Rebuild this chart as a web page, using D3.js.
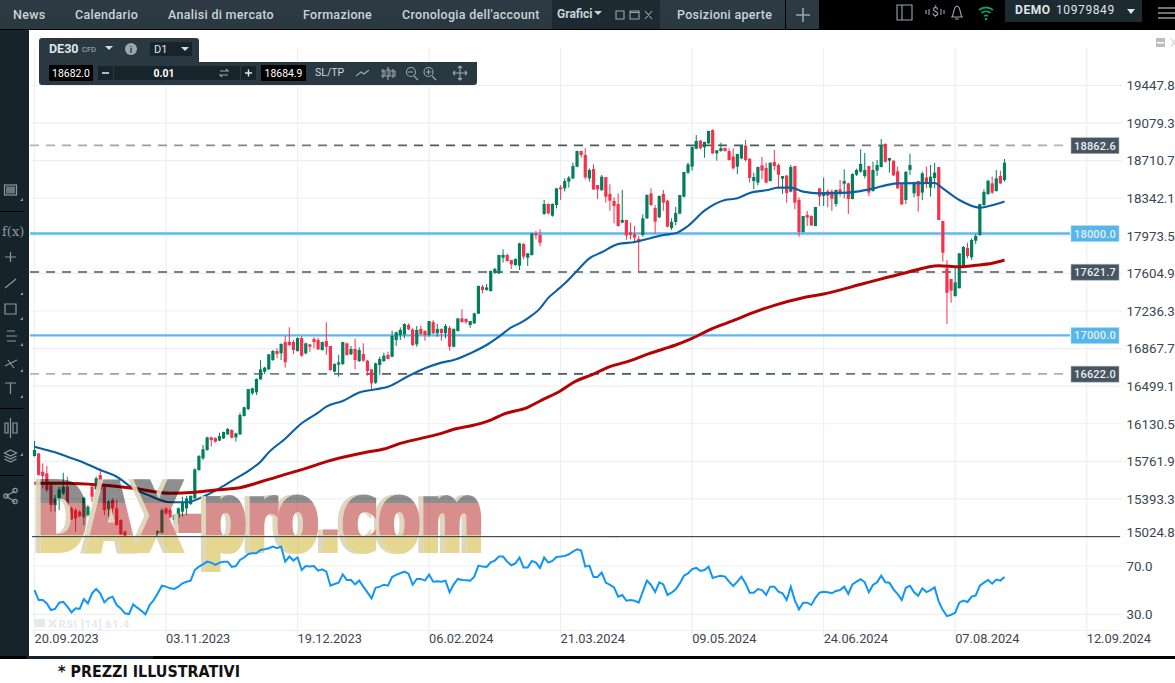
<!DOCTYPE html>
<html>
<head>
<meta charset="utf-8">
<script src="https://d3js.org/d3.v7.min.js"></script>
<style>
	body { margin: 0; background: #fff; font-family: Roboto, sans-serif; overflow: hidden; }
	svg { display: block; }
	.tab { font-size: 12.5px; font-weight: 500; fill: #c9d3d9; letter-spacing: .3px; }
	.axis-text text { font-family: Roboto, sans-serif; font-size: 13.3px; fill: #3c4650; }
	.tag { font-size: 11px; font-weight: 500; fill: #e8eef2; letter-spacing: .2px; }
	.tool { font-size: 10.4px; fill: #fff; }
	.ico { fill: none; stroke: #9aa7ae; stroke-width: 1.1; }
	.side { fill: none; stroke: #8c999f; stroke-width: 1.2; }
</style>
</head>

<body>
<script>
	var opens = [
		15814,15840,15660,15644,15530,15333,15382,15448,15513,15301,15284,15268,15212,15235,15513,15487,15628,15513,15291,15382,
		15301,15186,15072,14995,14940,14985,14930,14890,14850,14915,15029,15062,15301,15284,15186,15212,15268,15301,15343,15399,
		15677,15791,15873,15997,15991,15965,15987,16027,16069,15997,16027,16207,16275,16429,16439,16566,16641,16664,16756,16844,
		16821,16932,16935,16932,16844,16971,16821,16909,16962,16952,16854,16942,16893,16641,16710,16716,16919,16811,16864,16746,
		16815,16749,16664,16533,16707,16746,16805,16788,16952,17001,17007,17099,17056,16909,17060,17040,17001,17128,17017,17060,
		17017,17070,16886,17040,17164,17158,17099,17115,17210,17475,17442,17432,17612,17606,17759,17786,17736,17687,17681,17893,
		17759,17786,17998,17982,18188,18286,18171,18276,18449,18439,18505,18537,18652,18805,18766,18537,18629,18472,18423,18550,
		18384,18315,18286,18103,18129,18008,17988,17943,17982,18145,18390,18246,18155,18384,18318,18050,18109,18191,18358,18593,
		18652,18828,18907,18841,18881,19011,18783,18805,18835,18805,18750,18652,18733,18858,18730,18511,18495,18665,18639,18511,
		18697,18668,18534,18564,18407,18658,18325,18011,18178,18168,18070,18439,18364,18410,18410,18286,18429,18485,18488,18335,
		18573,18603,18560,18658,18413,18613,18648,18874,18711,18711,18606,18478,18325,18619,18390,18511,18397,18547,18446,18541,
		18648,18119,17655,17550,17383,17459,17687,17854,17763,17926,17982,18276,18384,18488,18413,18560,18521];
	var highs = [
		15961,15840,15742,15716,15562,15431,15513,15650,15611,15317,15301,15284,15415,15333,15530,15611,15693,15530,15382,15399,
		15382,15193,15088,15010,14990,14995,14950,14915,14930,15010,15088,15301,15310,15301,15245,15310,15415,15422,15431,15693,
		15824,15922,16004,16004,15997,16043,16053,16089,16076,16043,16239,16298,16471,16484,16576,16756,16690,16815,16854,16870,
		16919,16991,17076,16952,16978,16991,16926,16913,16978,16975,16935,17125,16893,16723,16805,16935,16926,16893,16968,16880,
		16919,16756,16664,16730,16788,16828,16837,17043,17034,17076,17115,17115,17066,17089,17092,17050,17138,17148,17109,17066,
		17109,17089,17066,17164,17253,17164,17138,17220,17485,17491,17501,17632,17661,17786,17841,17795,17736,17753,17906,17900,
		17802,18004,18021,18037,18325,18292,18292,18443,18472,18537,18560,18691,18809,18809,18832,18635,18675,18472,18570,18550,
		18479,18351,18390,18423,18129,18103,18070,17972,18184,18380,18439,18276,18371,18423,18325,18145,18259,18374,18600,18691,
		18848,18962,18913,18897,19005,19018,18815,18887,18838,18832,18832,18776,18864,18913,18733,18593,18652,18747,18691,18691,
		18815,18684,18560,18570,18668,18658,18351,18168,18217,18174,18256,18439,18544,18429,18429,18429,18521,18626,18495,18586,
		18632,18822,18786,18658,18701,18717,18923,18881,18737,18711,18652,18488,18603,18779,18505,18511,18603,18652,18668,18691,
		18648,18119,17736,17550,17665,17802,17874,17906,17949,17991,18286,18429,18521,18554,18619,18613,18727];
	var lows = [
		15808,15621,15497,15464,15268,15268,15284,15431,15301,15186,15072,15212,15137,15219,15366,15480,15480,15235,15219,15235,
		15131,15039,15006,14930,14925,14905,14870,14830,14840,14900,15023,15055,15235,15203,15137,15147,15219,15235,15333,15392,
		15670,15775,15866,15906,15945,15961,15981,16020,15987,15955,16020,16200,16265,16413,16413,16560,16618,16658,16746,16772,
		16756,16681,16893,16815,16837,16788,16811,16837,16870,16854,16847,16805,16651,16635,16592,16707,16798,16805,16664,16736,
		16739,16602,16461,16520,16609,16733,16762,16782,16893,16952,16968,17050,16893,16886,17001,16945,16984,17011,16984,16945,
		16968,16847,16880,17034,17122,17109,17073,17109,17207,17410,17436,17426,17599,17599,17710,17720,17648,17681,17638,17743,
		17678,17779,17939,17874,18178,18184,18161,18243,18325,18407,18446,18528,18645,18740,18528,18505,18423,18335,18413,18299,
		18220,18096,18063,18096,17933,17939,17900,17615,17965,18139,18266,17998,18148,18220,18057,18031,18076,18184,18348,18580,
		18613,18822,18822,18740,18874,18776,18711,18799,18799,18711,18625,18580,18724,18701,18495,18433,18469,18528,18488,18508,
		18619,18449,18384,18299,18400,18233,17965,18004,18070,18070,18070,18266,18266,18253,18217,18259,18358,18341,18188,18331,
		18560,18593,18537,18364,18407,18560,18645,18691,18593,18560,18436,18276,18286,18570,18351,18210,18325,18439,18358,18439,
		18129,17720,17109,17318,17377,17459,17671,17753,17736,17893,17972,18266,18374,18384,18407,18482,18505];
	var closes = [
		15873,15628,15618,15480,15333,15398,15487,15513,15333,15193,15203,15225,15405,15317,15415,15595,15487,15284,15366,15301,
		15137,15049,15023,14950,14985,14930,14890,14850,14915,14990,15078,15284,15252,15212,15235,15301,15356,15399,15422,15683,
		15814,15880,15997,15971,15955,16010,16050,16079,15994,16036,16216,16292,16471,16478,16569,16664,16681,16811,16844,16815,
		16913,16733,16903,16854,16971,16798,16919,16886,16932,16860,16932,16886,16658,16716,16733,16932,16805,16864,16756,16854,
		16749,16648,16527,16723,16766,16798,16766,16991,17027,17050,17109,17056,16903,17050,17011,17001,17138,17017,17060,17020,
		17089,16886,17060,17164,17128,17128,17138,17213,17482,17442,17468,17629,17648,17786,17786,17727,17694,17746,17900,17769,
		17802,17998,17978,17906,18286,18194,18286,18439,18429,18511,18544,18658,18805,18766,18547,18619,18429,18429,18554,18358,
		18318,18266,18070,18129,17978,17982,17956,17910,18145,18374,18276,18112,18364,18299,18063,18109,18197,18374,18600,18675,
		18845,18904,18832,18894,19002,18783,18812,18835,18805,18717,18635,18776,18858,18717,18541,18550,18648,18613,18495,18691,
		18658,18573,18560,18394,18648,18299,18011,18168,18152,18076,18256,18358,18403,18367,18338,18423,18397,18511,18335,18580,
		18619,18678,18619,18397,18619,18668,18861,18701,18737,18567,18439,18282,18603,18668,18495,18364,18586,18488,18554,18593,
		18129,17808,17416,17436,17517,17802,17864,17776,17933,17972,18286,18403,18514,18397,18537,18488,18691];

	// moving averages, read at the bars listed
	var blueBars = [0,5,8,12,16,20,24,28,33,37,41,45,49,52,55,57,61,65,69,71,75,79,83,86,91,95,99,102,106,110,113,116,118,120,123,125,127,129,132,135,138,142,146,149,153,156,159,163,168,171,174,178,181,184,187,191,198,203,210,219,221,225,230,232,236];
	var blueValues = [15906,15850,15807,15749,15677,15611,15497,15425,15360,15360,15415,15497,15595,15667,15759,15850,15984,16135,16239,16298,16354,16436,16468,16494,16599,16674,16730,16756,16821,16903,16985,17076,17115,17164,17262,17365,17435,17505,17630,17753,17812,17893,17913,17942,17982,17998,18070,18220,18325,18341,18394,18420,18446,18446,18407,18390,18397,18429,18488,18492,18439,18325,18250,18263,18309];
	var redBars = [0,8,16,24,33,39,44,49,57,61,66,71,81,85,89,99,102,107,111,114,120,123,128,131,136,140,145,149,153,156,160,165,170,175,180,187,192,202,212,220,225,229,233,236];
	var redValues = [15546,15546,15529,15497,15448,15458,15481,15497,15585,15634,15693,15759,15853,15883,15938,16036,16076,16118,16167,16223,16292,16354,16455,16533,16618,16690,16749,16811,16864,16903,16968,17066,17141,17223,17292,17367,17403,17508,17612,17681,17671,17684,17704,17737];

	var rsiValues = [
		50.1,41.8,41.8,39,33.5,34.4,39.6,40.4,36.3,31.6,34.9,34.4,42.7,39,47.4,51,47.4,39.9,43.2,44.6,
		37.7,34.9,30.8,30.2,38.2,35.5,33,30,37.7,41.8,47.4,53.7,52.9,51.5,51,52.9,55.7,57,57.9,66.7,
		69.5,71.4,73.6,72.8,70.9,72.8,73.6,73.6,69.2,70,75,77,80,80.6,80.6,83.3,83.9,84.7,86.1,84.7,
		86.1,73.6,77.8,74.5,77.2,66.7,70,69.5,70,66.2,67.3,65.4,53.7,55.1,56.2,63.1,58.4,58.4,54.8,57.9,
		52.9,48.2,43.2,52,52.9,54.5,53.7,60.9,62.6,64,65.4,63.7,54.5,59.3,59.3,57.9,62.9,57,57.3,57,
		57.9,48.2,54.8,59.3,58.4,58.2,57.9,61.2,70.3,69.5,69.2,73.1,74.5,77.8,77.8,73.6,70.6,72.2,77,68.7,
		68.7,74.2,72.8,68.4,77,72.8,74.2,77.5,77.8,78.3,79.7,81.9,83.9,82.8,69.5,70.3,60.9,60.9,64.5,56.2,
		54.3,52.3,44.6,46,41.3,41.8,41.3,39.6,48.7,57.9,54.3,48.4,56.5,54.8,46,47.9,50.7,55.6,62,63.9,
		67.5,68.4,65.9,66.7,69.5,60.1,61.2,62,61.2,57,53.4,57,61.2,55.6,47.9,47.9,50.9,50.1,46,52.9,
		52.9,48.7,47.4,41.8,52.9,41.3,34,39.6,39.6,37.7,43.7,47.9,48.7,48.2,47.4,49.3,50.1,52.9,46.8,54.8,
		57,59,56.5,48.2,54.3,56.5,62,56.5,56.2,50.7,46.8,41.8,52,53.7,48.2,45.4,51.5,48.4,50.1,52.3,
		40.4,33.5,28.5,29.6,31.3,39.6,41.3,40.2,44.6,45.7,53.7,56.2,58.4,55.4,58.7,57.9,60.9];

	var priceTicks = [19447.8,19079.3,18710.7,18342.1,17973.5,17604.9,17236.3,16867.7,16499.1,16130.5,15761.9,15393.3,15024.8];
	var rsiTicks = [70,30];
	var dateBars = [0,32,64,96,128,160,192,224,256];
	var dateLabels = ["20.09.2023","03.11.2023","19.12.2023","06.02.2024","21.03.2024","09.05.2024","24.06.2024","07.08.2024","12.09.2024"];
	var levelValues = [18862.6,18000,17621.7,17000,16622];
	var levelLabels = ["18862.6","18000.0","17621.7","17000.0","16622.0"];
	var levelKinds = ["grey","blue","dark","blue","grey"];
	var tabNames = ["News","Calendario","Analisi di mercato","Formazione","Cronologia dell'account"];
	var tabStarts = [13,75,168,303,402];

	var svg = d3.select("body").append("svg").attr("width", 1175).attr("height", 683);
	var defs = svg.append("defs");

	var x = d3.scaleLinear().domain([0, 236]).range([34.5, 1004.5]);
	var y = d3.scaleLinear().domain([15024.8, 19447.8]).range([536.5, 85.5]);
	var rsiY = d3.scaleLinear().domain([30, 70]).range([614.3, 566]);

	defs.append("clipPath").attr("id", "pricePane").append("rect")
		.attr("x", 30).attr("y", 30).attr("width", 1090).attr("height", 506.5);

	// grid
	var grid = svg.append("g").attr("stroke", "#edeff2").attr("stroke-width", 1.2);
	grid.selectAll(".h").data(priceTicks).enter().append("line")
		.attr("x1", 31).attr("x2", 1122)
		.attr("y1", function(d) { return y(d); }).attr("y2", function(d) { return y(d); });
	grid.selectAll(".r").data(rsiTicks).enter().append("line")
		.attr("x1", 31).attr("x2", 1122)
		.attr("y1", function(d) { return rsiY(d); }).attr("y2", function(d) { return rsiY(d); });
	grid.append("line").attr("x1", 31).attr("x2", 1119).attr("y1", 630.5).attr("y2", 630.5);
	grid.selectAll(".v").data(dateBars).enter().append("line")
		.attr("x1", function(d) { return x(d); }).attr("x2", function(d) { return x(d); })
		.attr("y1", 48).attr("y2", 638);

	// level lines under the candles
	var greyGrad = defs.append("linearGradient").attr("id", "greyLevel")
		.attr("gradientUnits", "userSpaceOnUse").attr("x1", 30).attr("x2", 1070).attr("y1", 0).attr("y2", 0);
	greyGrad.append("stop").attr("offset", 0).attr("stop-color", "#b3b5b7");
	greyGrad.append("stop").attr("offset", .4).attr("stop-color", "#4c5862");
	greyGrad.append("stop").attr("offset", .7).attr("stop-color", "#4c5862");
	greyGrad.append("stop").attr("offset", 1).attr("stop-color", "#b3b5b7");

	levelValues.forEach(function(v, i) {
		var kind = levelKinds[i];
		svg.append("line")
			.attr("x1", 30).attr("x2", 1070)
			.attr("y1", y(v) + .3).attr("y2", y(v) + .3 + .001)
			.attr("stroke", kind == "blue" ? "#5cb8ee" : (kind == "dark" ? "#4c5862" : "url(#greyLevel)"))
			.attr("stroke-width", kind == "blue" ? 2.4 : 1.7)
			.attr("stroke-dasharray", kind == "blue" ? null : "9,7");
		svg.append("rect").attr("x", 1071).attr("y", y(v) - 7.5).attr("width", 48).attr("height", 16)
			.attr("fill", kind == "blue" ? "#55b6ec" : "#475560")
			.attr("stroke", kind == "blue" ? "#a9d9f4" : "#aab2b8").attr("stroke-width", .6);
		svg.append("text").attr("class", "tag").attr("x", 1095).attr("y", y(v) + 4.4)
			.attr("text-anchor", "middle").text(levelLabels[i]);
	});

	// candles
	var pane = svg.append("g").attr("clip-path", "url(#pricePane)");
	var bars = d3.range(opens.length);
	var colour = function(i) { return closes[i] >= opens[i] ? "#037d5a" : "#f5324c"; };

	pane.selectAll(".wick").data(bars).enter().append("line")
		.attr("x1", function(i) { return x(i); }).attr("x2", function(i) { return x(i); })
		.attr("y1", function(i) { return y(highs[i]); }).attr("y2", function(i) { return y(lows[i]); })
		.attr("stroke", colour).attr("stroke-width", 1);
	pane.selectAll(".body").data(bars).enter().append("rect")
		.attr("x", function(i) { return x(i) - 1.6; }).attr("width", 3.2)
		.attr("y", function(i) { return y(Math.max(opens[i], closes[i])); })
		.attr("height", function(i) { return Math.max(1, Math.abs(y(opens[i]) - y(closes[i]))); })
		.attr("fill", colour);

	// moving averages
	var priceLine = d3.line().x(function(d) { return x(d[0]); }).y(function(d) { return y(d[1]); }).curve(d3.curveMonotoneX);
	pane.append("path").attr("d", priceLine(d3.zip(blueBars, blueValues)))
		.attr("fill", "none").attr("stroke", "#0b5fa5").attr("stroke-width", 2.1);
	pane.append("path").attr("d", priceLine(d3.zip(redBars, redValues)))
		.attr("fill", "none").attr("stroke", "#b30404").attr("stroke-width", 3);

	// watermark, flag colours over the chart with a beige shadow
	var flag = defs.append("linearGradient").attr("id", "flag")
		.attr("gradientUnits", "userSpaceOnUse").attr("x1", 0).attr("x2", 0).attr("y1", 482).attr("y2", 552);
	[[0, "#000"], [.3, "#000"], [.3, "#a90000"], [.76, "#a90000"], [.76, "#c6a603"], [1, "#c6a603"]].forEach(function(s) {
		flag.append("stop").attr("offset", s[0]).attr("stop-color", s[1]);
	});
	function mark(parent, dx, fill) {
		return parent.append("text").attr("x", 37 + dx).attr("y", 550)
			.attr("textLength", 447).attr("lengthAdjust", "spacingAndGlyphs")
			.attr("font-family", "'DejaVu Sans'").attr("font-weight", "bold").attr("font-size", 92)
			.attr("fill", fill).attr("stroke", fill).attr("stroke-width", 6)
			.text("DAX-pro.com");
	}
	var knock = defs.append("mask").attr("id", "notMain").attr("maskUnits", "userSpaceOnUse")
		.attr("x", 0).attr("y", 440).attr("width", 600).attr("height", 140);
	knock.append("rect").attr("x", 0).attr("y", 440).attr("width", 600).attr("height", 140).attr("fill", "#fff");
	mark(knock, 0, "#000");
	mark(svg.append("g").attr("mask", "url(#notMain)").attr("opacity", .92), -5, "#dcd3b8");
	mark(svg.append("g").attr("opacity", .44), 0, "url(#flag)");

	// separator between the panes
	svg.append("rect").attr("x", 32).attr("y", 536).attr("width", 1088).attr("height", 1.2).attr("fill", "#3f4d58");
	svg.append("rect").attr("x", 609).attr("y", 537).attr("width", 10).attr("height", 1).attr("fill", "#c4c8cb");

	// RSI
	var rsiLine = d3.line().x(function(d, i) { return x(i); }).y(function(d) { return rsiY(d); });
	svg.append("path").attr("d", rsiLine(rsiValues))
		.attr("fill", "none").attr("stroke", "#0f96f5").attr("stroke-width", 2);
	svg.append("text").attr("x", 59).attr("y", 628).attr("font-size", 10.5).attr("font-weight", "bold")
		.attr("fill", "#e6e9ec").attr("letter-spacing", .8).text("RSI [14] 61.4");
	svg.append("rect").attr("x", 34).attr("y", 619).attr("width", 11).attr("height", 8).attr("fill", "#e6e9ec");
	svg.append("path").attr("d", "M49 620l7 7M56 620l-7 7").attr("stroke", "#e6e9ec").attr("stroke-width", 2.4);

	// axes
	var priceAxis = d3.axisRight(y).tickValues(priceTicks).tickFormat(d3.format(".1f")).tickSize(0).tickPadding(0);
	var priceG = svg.append("g").attr("class", "axis-text").attr("transform", "translate(1126.5,0)").call(priceAxis);
	priceG.select(".domain").remove();
	priceG.selectAll("text").attr("dy", function(d) { return d == 15024.8 ? "-.0em" : ".32em"; });

	var rsiAxis = d3.axisRight(rsiY).tickValues(rsiTicks).tickFormat(d3.format(".1f")).tickSize(0).tickPadding(0);
	var rsiG = svg.append("g").attr("class", "axis-text").attr("transform", "translate(1126.5,0)").call(rsiAxis);
	rsiG.select(".domain").remove();

	var dateAxis = d3.axisBottom(x).tickValues(dateBars).tickFormat(function(d, i) { return dateLabels[i]; }).tickSize(0).tickPadding(0);
	var dateG = svg.append("g").attr("class", "axis-text").attr("transform", "translate(-.5,634)").call(dateAxis);
	dateG.select(".domain").remove();
	dateG.selectAll("text").attr("text-anchor", "start").attr("dy", ".71em").style("font-size", "12.8px");

	// top bar
	svg.append("rect").attr("width", 1175).attr("height", 30).attr("fill", "#000");
	var tabGrad = defs.append("linearGradient").attr("id", "tabBg").attr("x1", 0).attr("x2", 0).attr("y1", 0).attr("y2", 1);
	tabGrad.append("stop").attr("offset", 0).attr("stop-color", "#2e3b44");
	tabGrad.append("stop").attr("offset", 1).attr("stop-color", "#2a3840");
	svg.append("rect").attr("width", 552).attr("height", 29).attr("fill", "url(#tabBg)");
	svg.append("rect").attr("x", 552).attr("width", 72).attr("height", 29).attr("fill", "#1d2a31");
	svg.append("rect").attr("x", 624).attr("width", 36).attr("height", 29).attr("fill", "#1d2a31");
	svg.append("rect").attr("x", 660).attr("width", 125).attr("height", 29).attr("fill", "url(#tabBg)");
	svg.append("rect").attr("x", 786).attr("width", 33).attr("height", 29).attr("fill", "url(#tabBg)");
	tabNames.forEach(function(t, i) {
		svg.append("text").attr("class", "tab").attr("x", tabStarts[i]).attr("y", 19).text(t);
	});
	svg.append("text").attr("class", "tab").attr("x", 677).attr("y", 19).text("Posizioni aperte");
	svg.append("text").attr("x", 557).attr("y", 18).attr("font-size", 12).attr("font-weight", "bold").attr("fill", "#c9d3d9").text("Grafici");
	svg.append("path").attr("d", "M594 11h8l-4 4z").attr("fill", "#c9d3d9");
	svg.append("path").attr("class", "ico").attr("d", "M616 11h8v8h-8z M630 11h9v8h-9z M630 12.5h9 M645 11l7 8 M652 11l-7 8");
	svg.append("path").attr("d", "M803 8v14M796 15h14").attr("stroke", "#9aa7ae").attr("stroke-width", 1.6);
	svg.append("path").attr("class", "ico").attr("d", "M897 5h15v15h-15z M902 5v15");
	svg.append("text").attr("x", 932).attr("y", 16).attr("font-size", 12).attr("fill", "#9aa7ae").text("$");
	svg.append("path").attr("class", "ico").attr("d", "M926 10v4 M929 9v6 M941 9v6 M944 10v4 M952 17c2-2 1-10 5-11c4 1 3 9 5 11z M955 19h4");
	svg.append("path").attr("d", "M979 10a11 11 0 0 1 14 0 M981.5 13a7 7 0 0 1 9 0 M984 16a3.5 3.5 0 0 1 4 0")
		.attr("fill", "none").attr("stroke", "#0aa06e").attr("stroke-width", 1.8);
	svg.append("circle").attr("cx", 986).attr("cy", 19).attr("r", 1.3).attr("fill", "#0aa06e");
	svg.append("rect").attr("x", 1005).attr("width", 137).attr("height", 22).attr("fill", "#1d2a31");
	svg.append("text").attr("x", 1015).attr("y", 14).attr("font-size", 12).attr("font-weight", "bold").attr("letter-spacing", .6).attr("fill", "#dfe5e8").text("DEMO");
	svg.append("text").attr("x", 1056).attr("y", 14).attr("font-size", 12).attr("letter-spacing", .6).attr("fill", "#dfe5e8").text("10979849");
	svg.append("path").attr("d", "M1127 9h8l-4 5z").attr("fill", "#dfe5e8");
	svg.append("path").attr("d", "M1158 8h17M1158 13h17M1158 18h17").attr("stroke", "#dfe5e8").attr("stroke-width", 1.2);
	svg.append("rect").attr("x", 1156).attr("y", 38).attr("width", 9).attr("height", 9).attr("fill", "#b9bec2");
	svg.append("rect").attr("x", 1157).attr("y", 42).attr("width", 7).attr("height", 1.5).attr("fill", "#fff");
	svg.append("path").attr("d", "M1171 38l5 9M1176 38l-5 9").attr("stroke", "#c8ccd0").attr("stroke-width", 1);

	// left toolbar
	svg.append("rect").attr("y", 30).attr("width", 29).attr("height", 627).attr("fill", "#17232b");
	var side = svg.append("g").attr("class", "side");
	side.append("rect").attr("x", 4.5).attr("y", 185).attr("width", 12).attr("height", 10);
	side.append("rect").attr("x", 6).attr("y", 186.5).attr("width", 9).attr("height", 7).attr("fill", "#65767e").attr("stroke", "none");
	side.append("path").attr("d", "M5 257h11M10.5 252v10M5 288l11-9M5 304h11v10h-11z M7 331h8M6 336h11M7 341h9M5 366l12-6M8 360l6 8M5 383h11M10.5 383v11M5 423v10h3v-10zM10.5 418v20M13 423v10h4v-10z");
	side.append("path").attr("d", "M10.5 450l6 3-6 3-6-3zM4.5 456l6 3 6-3M4.5 459l6 3 6-3");
	side.append("path").attr("d", "M6 496l9-5M6 496l9 6");
	side.append("circle").attr("cx", 6).attr("cy", 496).attr("r", 2.2);
	side.append("circle").attr("cx", 15).attr("cy", 490.5).attr("r", 2.2);
	side.append("circle").attr("cx", 15).attr("cy", 501.5).attr("r", 2.2);
	svg.append("text").attr("x", 2).attr("y", 236).attr("font-size", 13).attr("fill", "#8c999f").attr("font-family", "'DejaVu Serif'").text("f(x)");
	[211, 408, 475].forEach(function(s) {
		svg.append("rect").attr("x", 0).attr("y", s).attr("width", 23).attr("height", 1).attr("fill", "#000");
	});
	[201, 295, 320, 346, 372, 398, 456].forEach(function(s) {
		svg.append("path").attr("d", "M23 " + s + "v-3l-3 3z").attr("fill", "#8c999f");
	});

	// instrument panel
	svg.append("path").attr("d", "M42 38h154q3 0 3 3v21h278v20q0 3-3 3h-432q-3 0-3-3v-41q0-3 3-3z").attr("fill", "#2a3841");
	svg.append("text").attr("x", 49).attr("y", 53).attr("font-size", 12.5).attr("font-weight", "bold").attr("fill", "#dfe5e8").text("DE30");
	svg.append("text").attr("x", 82).attr("y", 52).attr("font-size", 7.5).attr("fill", "#aab5bb").text("CFD");
	svg.append("path").attr("d", "M105 46h8l-4 4z").attr("fill", "#d4dade");
	svg.append("circle").attr("cx", 131).attr("cy", 49).attr("r", 6).attr("fill", "#9ea7ac");
	svg.append("text").attr("x", 131).attr("y", 53).attr("text-anchor", "middle").attr("font-size", 9).attr("font-weight", "bold").attr("fill", "#2a3841").text("i");
	svg.append("rect").attr("x", 150).attr("y", 42).attr("width", 42).attr("height", 14).attr("fill", "#18242b");
	svg.append("text").attr("x", 154).attr("y", 53).attr("font-size", 11).attr("fill", "#dfe5e8").text("D1");
	svg.append("path").attr("d", "M181 47h8l-4 4z").attr("fill", "#d4dade");
	svg.append("rect").attr("x", 49).attr("y", 65).attr("width", 44).attr("height", 16).attr("fill", "#000").attr("rx", 1);
	svg.append("rect").attr("x", 98).attr("y", 66).attr("width", 15).attr("height", 14).attr("fill", "#18242b");
	svg.append("rect").attr("x", 114).attr("y", 66).attr("width", 126).attr("height", 14).attr("fill", "#18242b");
	svg.append("rect").attr("x", 241).attr("y", 66).attr("width", 15).attr("height", 14).attr("fill", "#18242b");
	svg.append("rect").attr("x", 261).attr("y", 65).attr("width", 45).attr("height", 16).attr("fill", "#000").attr("rx", 1);
	svg.append("text").attr("class", "tool").attr("x", 71).attr("y", 77).attr("text-anchor", "middle").text("18682.0");
	svg.append("text").attr("class", "tool").attr("x", 164).attr("y", 77).attr("text-anchor", "middle").attr("font-weight", "bold").text("0.01");
	svg.append("text").attr("class", "tool").attr("x", 283.5).attr("y", 77).attr("text-anchor", "middle").text("18684.9");
	svg.append("text").attr("x", 315).attr("y", 76).attr("font-size", 10.5).attr("fill", "#cdd5da").text("SL/TP");
	svg.append("path").attr("d", "M102 73h7M245 73h7M248.5 69.5v7").attr("stroke", "#e6eaec").attr("stroke-width", 1.4);
	svg.append("path").attr("class", "ico").attr("d", "M220 71h8l-2-2M228 75h-8l2 2");
	svg.append("path").attr("class", "ico").attr("d", "M356 76l5-4 3 2 5-4M383 69v9M388 67v13M393 69v9M381 71h4v5h-4M386 70h4v6h-4M391 71h4v5h-4");
	svg.append("path").attr("class", "ico").attr("d", "M414 76l4 4M432 76l4 4M408 72h5M426 72h5M428.5 69.5v5M460 66v14M453 73h14M460 66l-2 2M460 66l2 2M460 80l-2-2M460 80l2-2M453 73l2-2M453 73l2 2M467 73l-2-2M467 73l-2 2");
	svg.append("circle").attr("class", "ico").attr("cx", 411).attr("cy", 72).attr("r", 4.5);
	svg.append("circle").attr("class", "ico").attr("cx", 428.5).attr("cy", 72).attr("r", 4.5);

	// footer
	svg.append("rect").attr("y", 656).attr("width", 1175).attr("height", 3).attr("fill", "#000");
	svg.append("rect").attr("x", 27).attr("y", 656).attr("width", 126).attr("height", 3).attr("fill", "#17232b");
	svg.append("text").attr("x", 58).attr("y", 677).attr("font-size", 15).attr("font-weight", "bold")
		.attr("font-family", "'DejaVu Sans'").attr("fill", "#111").attr("textLength", 182).attr("lengthAdjust", "spacingAndGlyphs")
		.text("* PREZZI ILLUSTRATIVI");
</script>
</body>
</html>
